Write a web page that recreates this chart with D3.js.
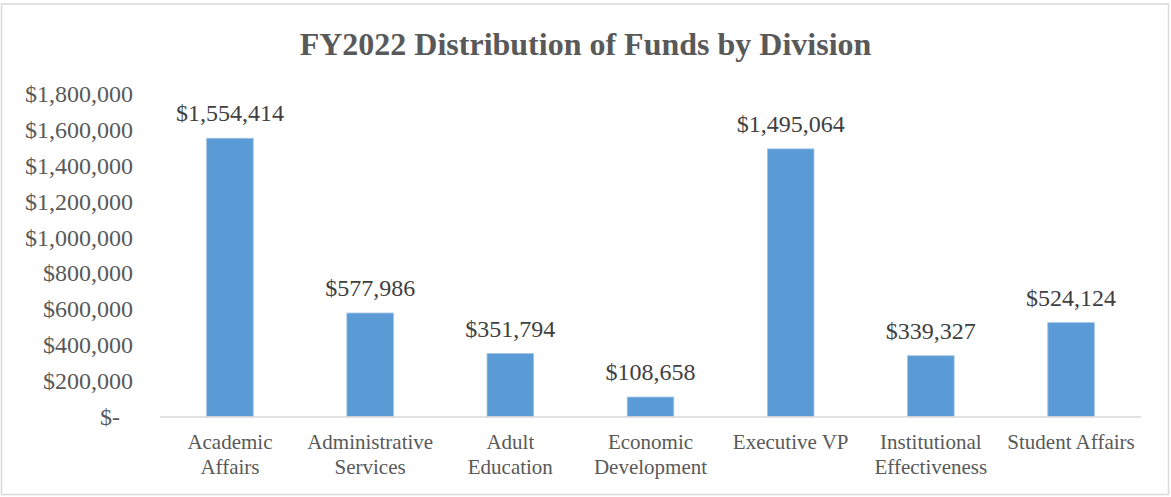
<!DOCTYPE html>
<html>
<head>
<meta charset="utf-8">
<script src="https://cdn.jsdelivr.net/npm/d3@7"></script>
<style>
  html, body { margin: 0; padding: 0; background: #fff; }
  svg { display: block; font-family: "Liberation Serif", "Times New Roman", serif; }
</style>
</head>
<body>
<svg id="chart" width="1171" height="497"></svg>
<script>
const title = 'FY2022 Distribution of Funds by Division';
const categories = [
    ['Academic', 'Affairs'],
    ['Administrative', 'Services'],
    ['Adult', 'Education'],
    ['Economic', 'Development'],
    ['Executive VP'],
    ['Institutional', 'Effectiveness'],
    ['Student Affairs']
];
const values = [1554414, 577986, 351794, 108658, 1495064, 339327, 524124];
const yTicks = [0, 200000, 400000, 600000, 800000, 1000000, 1200000, 1400000, 1600000, 1800000];

const W = 1171, H = 497;
const plot = { left: 160, right: 1141, top: 94.3, bottom: 416.5 };
const textColor = '#595959';

const svg = d3.select('#chart');

// chart border
svg.append('rect')
    .attr('x', 1.5).attr('y', 4)
    .attr('width', 1167).attr('height', 490.5)
    .attr('fill', '#fff')
    .attr('stroke', '#d9d9d9')
    .attr('stroke-width', 1.5);

svg.append('text')
    .attr('x', 585.5).attr('y', 54.5)
    .attr('text-anchor', 'middle')
    .attr('font-size', '32px')
    .attr('font-weight', 'bold')
    .attr('fill', textColor)
    .text(title);

const x = d3.scaleBand()
    .domain(d3.range(values.length))
    .range([plot.left, plot.right])
    .paddingInner(0.668)
    .paddingOuter(0.333);

const y = d3.scaleLinear()
    .domain([0, 1800000])
    .range([plot.bottom, plot.top]);

const fmt = d3.format('$,');

// y axis labels (no line)
const yAxis = svg.append('g')
    .attr('transform', `translate(${plot.left},0)`)
    .call(d3.axisLeft(y)
        .tickValues(yTicks)
        .tickSize(0)
        .tickPadding(27)
        .tickFormat(d => d === 0 ? '$-' : fmt(d)));
yAxis.select('.domain').remove();
yAxis.selectAll('text')
    .attr('font-family', '"Liberation Serif", "Times New Roman", serif')
    .attr('font-size', '24px')
    .attr('fill', textColor)
    .attr('dx', d => d === 0 ? -13 : 0);

// bars
svg.append('g')
    .selectAll('rect')
    .data(values)
    .join('rect')
    .attr('x', (d, i) => x(i))
    .attr('y', d => y(d))
    .attr('width', x.bandwidth())
    .attr('height', d => y(0) - y(d))
    .attr('fill', '#5b9bd5')
    .attr('stroke', '#9dc3e6')
    .attr('stroke-width', 0.8);

// x axis line
svg.append('line')
    .attr('x1', plot.left).attr('x2', plot.right)
    .attr('y1', y(0) + 0.5).attr('y2', y(0) + 0.5)
    .attr('stroke', '#d9d9d9')
    .attr('stroke-width', 1.5);

// data labels
svg.append('g')
    .selectAll('text')
    .data(values)
    .join('text')
    .attr('x', (d, i) => x(i) + x.bandwidth() / 2)
    .attr('y', d => y(d) - 17)
    .attr('text-anchor', 'middle')
    .attr('font-size', '24px')
    .attr('fill', '#404040')
    .text(d => fmt(d));

// category labels
const cat = svg.append('g')
    .selectAll('text')
    .data(categories)
    .join('text')
    .attr('x', (d, i) => x(i) + x.bandwidth() / 2)
    .attr('y', 449)
    .attr('text-anchor', 'middle')
    .attr('font-size', '21px')
    .attr('fill', textColor);
cat.selectAll('tspan')
    .data(d => d)
    .join('tspan')
    .attr('x', function () { return d3.select(this.parentNode).attr('x'); })
    .attr('dy', (d, i) => i === 0 ? 0 : 25)
    .text(d => d);
</script>
</body>
</html>
